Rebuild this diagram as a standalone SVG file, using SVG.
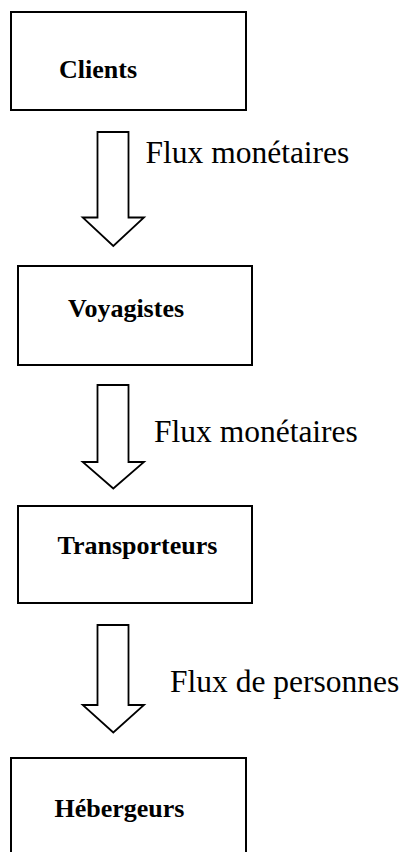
<svg xmlns="http://www.w3.org/2000/svg" width="404" height="852" viewBox="0 0 404 852">
<style>
.box{fill:#fff;stroke:#000;stroke-width:2}
.arr{fill:#fff;stroke:#000;stroke-width:1.8;stroke-linejoin:miter}
.lbl{font-family:"Liberation Serif","Times New Roman",serif;font-weight:bold;font-size:26px;fill:#000}
.flux{font-family:"Liberation Serif","Times New Roman",serif;font-size:31.5px;fill:#000}
</style>
<rect width="404" height="852" fill="#fff"/>
<g id="clients">
<rect class="box" x="11" y="12" width="235" height="98"/>
<text class="lbl" x="59" y="78">Clients</text>
</g>
<g id="voyagistes">
<rect class="box" x="18" y="266" width="234" height="99"/>
<text class="lbl" x="68" y="317">Voyagistes</text>
</g>
<g id="transporteurs">
<rect class="box" x="18" y="506" width="234" height="97"/>
<text class="lbl" x="57.5" y="554">Transporteurs</text>
</g>
<g id="hebergeurs">
<rect class="box" x="11" y="758" width="235" height="110"/>
<text class="lbl" x="54.5" y="817">Hébergeurs</text>
</g>
<g id="connectors">
<polygon class="arr" points="97.5,132 128.5,132 128.5,217.5 144,217.5 113.3,246 82.7,217.5 97.5,217.5"/>
<text class="flux" x="145.5" y="163">Flux monétaires</text>
<polygon class="arr" points="97.5,385 128.5,385 128.5,462 144,462 113.3,488.5 82.7,462 97.5,462"/>
<text class="flux" x="154" y="442">Flux monétaires</text>
<polygon class="arr" points="97.5,625 128.5,625 128.5,705 144,705 113.3,732.5 82.7,705 97.5,705"/>
<text class="flux" x="170" y="692">Flux de personnes</text>
</g>
</svg>
